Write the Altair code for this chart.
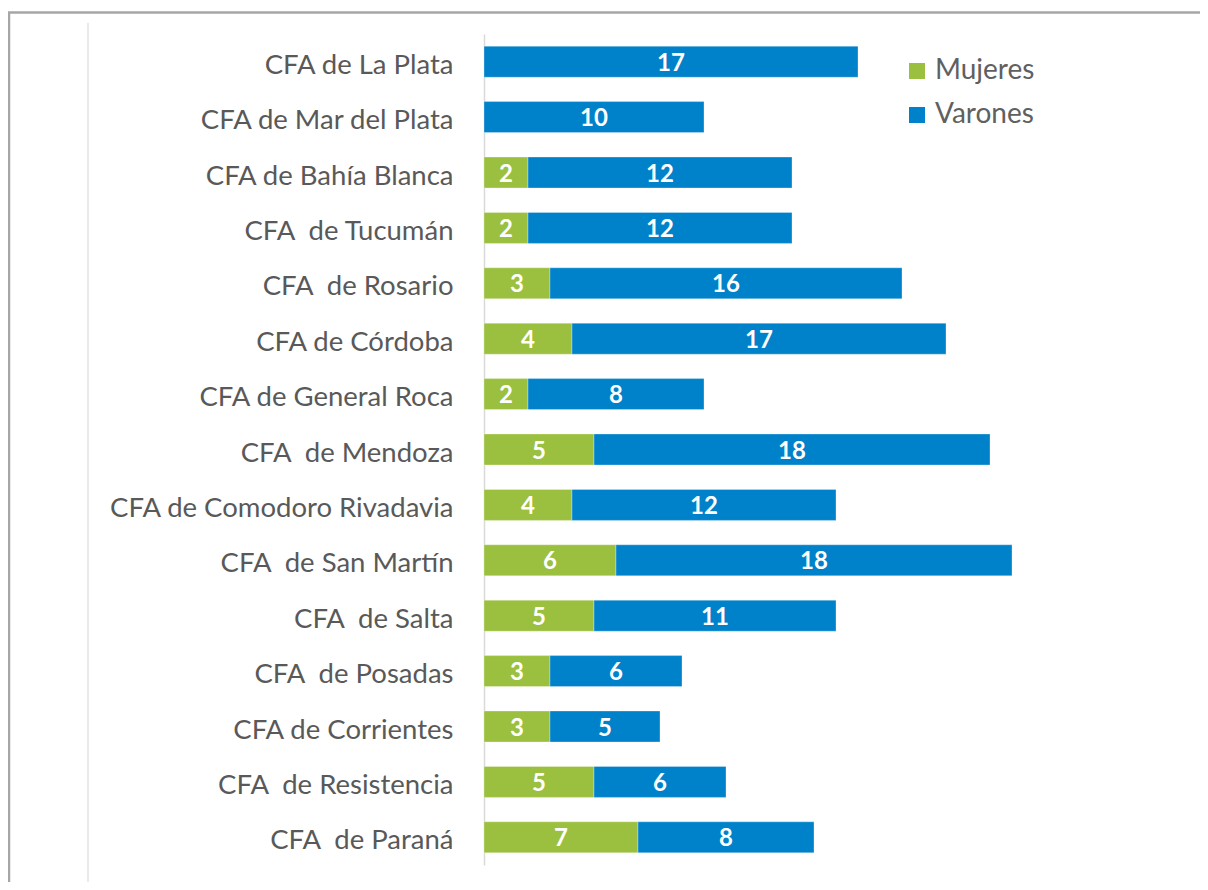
import altair as alt
import pandas as pd

centros = [
    "CFA de La Plata",
    "CFA de Mar del Plata",
    "CFA de Bahía Blanca",
    "CFA\u00a0 de Tucumán",
    "CFA\u00a0 de Rosario",
    "CFA de Córdoba",
    "CFA de General Roca\u00a0",
    "CFA\u00a0 de Mendoza",
    "CFA de Comodoro Rivadavia",
    "CFA\u00a0 de San Martín",
    "CFA\u00a0 de Salta",
    "CFA\u00a0 de Posadas",
    "CFA de Corrientes",
    "CFA\u00a0 de Resistencia",
    "CFA\u00a0 de Paraná",
]
mujeres = [0, 0, 2, 2, 3, 4, 2, 5, 4, 6, 5, 3, 3, 5, 7]
varones = [17, 10, 12, 12, 16, 17, 8, 18, 12, 18, 11, 6, 5, 6, 8]
grupos = ["Mujeres", "Varones"]
colores = ["#9BC03F", "#0082CA"]

rows = []
for c, m, v in zip(centros, mujeres, varones):
    rows.append({"centro": c, "grupo": grupos[0], "valor": m, "orden": 0})
    rows.append({"centro": c, "grupo": grupos[1], "valor": v, "orden": 1})
df = pd.DataFrame(rows)

FONT = "Lato"

base = alt.Chart(df).transform_stack(
    stack="valor",
    groupby=["centro"],
    as_=["x0", "x1"],
    sort=[alt.SortField("orden", order="ascending")],
).transform_calculate(mid="(datum.x0 + datum.x1) / 2")

xscale = alt.Scale(domain=[0, 32], nice=False, zero=True)
yenc = alt.Y(
    "centro:N",
    sort=centros,
    title=None,
    scale=alt.Scale(paddingInner=0.44, paddingOuter=0.22),
    axis=alt.Axis(
        labelFont=FONT,
        labelFontSize=27.5,
        labelColor="#595959",
        labelPadding=31,
        labelOffset=4,
        ticks=False,
        domainColor="#D9D9D9",
        domainWidth=1.5,
        grid=False,
        labelLimit=500,
    ),
)

bars = base.mark_bar(stroke="#ffffff", strokeWidth=0.6, strokeOpacity=0.5).encode(
    x=alt.X("x0:Q", scale=xscale, axis=None),
    x2="x1:Q",
    y=yenc,
    color=alt.Color(
        "grupo:N",
        scale=alt.Scale(domain=grupos, range=colores),
        legend=alt.Legend(
            title=None,
            orient="none",
            legendX=419,
            legendY=23,
            symbolType="square",
            symbolSize=256,
            symbolStrokeWidth=0,
            labelFont=FONT,
            labelFontSize=28,
            labelColor="#606060",
            labelOffset=4,
            rowPadding=16,
        ),
    ),
)

labels = base.transform_filter("datum.valor > 0").mark_text(
    font=FONT, fontSize=24, fontWeight="bold", color="white", baseline="middle", dy=2
).encode(
    x=alt.X("mid:Q", scale=xscale, axis=None),
    y=alt.Y("centro:N", sort=centros),
    text="valor:Q",
)

one = pd.DataFrame({"k": [0]})
frame_top = alt.Chart(one).mark_rule(color="#A6A6A6", strokeWidth=2.5).encode(
    x=alt.value(-476), x2=alt.value(740), y=alt.value(-21.5)
)
frame_left = alt.Chart(one).mark_rule(color="#A6A6A6", strokeWidth=2.5).encode(
    x=alt.value(-475), y=alt.value(-22), y2=alt.value(880)
)
inner_left = alt.Chart(one).mark_rule(color="#E3E3E3", strokeWidth=1.5).encode(
    x=alt.value(-396), y=alt.value(-11), y2=alt.value(880)
)

chart = alt.layer(frame_top, frame_left, inner_left, bars, labels).properties(
    width=704,
    height=831,
    background="white",
    autosize=alt.AutoSizeParams(type="none"),
    padding={"left": 476, "top": 26, "right": 12, "bottom": 17},
).configure_view(stroke=None, strokeWidth=0)

chart.save("out.html", embed_options={"renderer": "svg", "actions": False})
